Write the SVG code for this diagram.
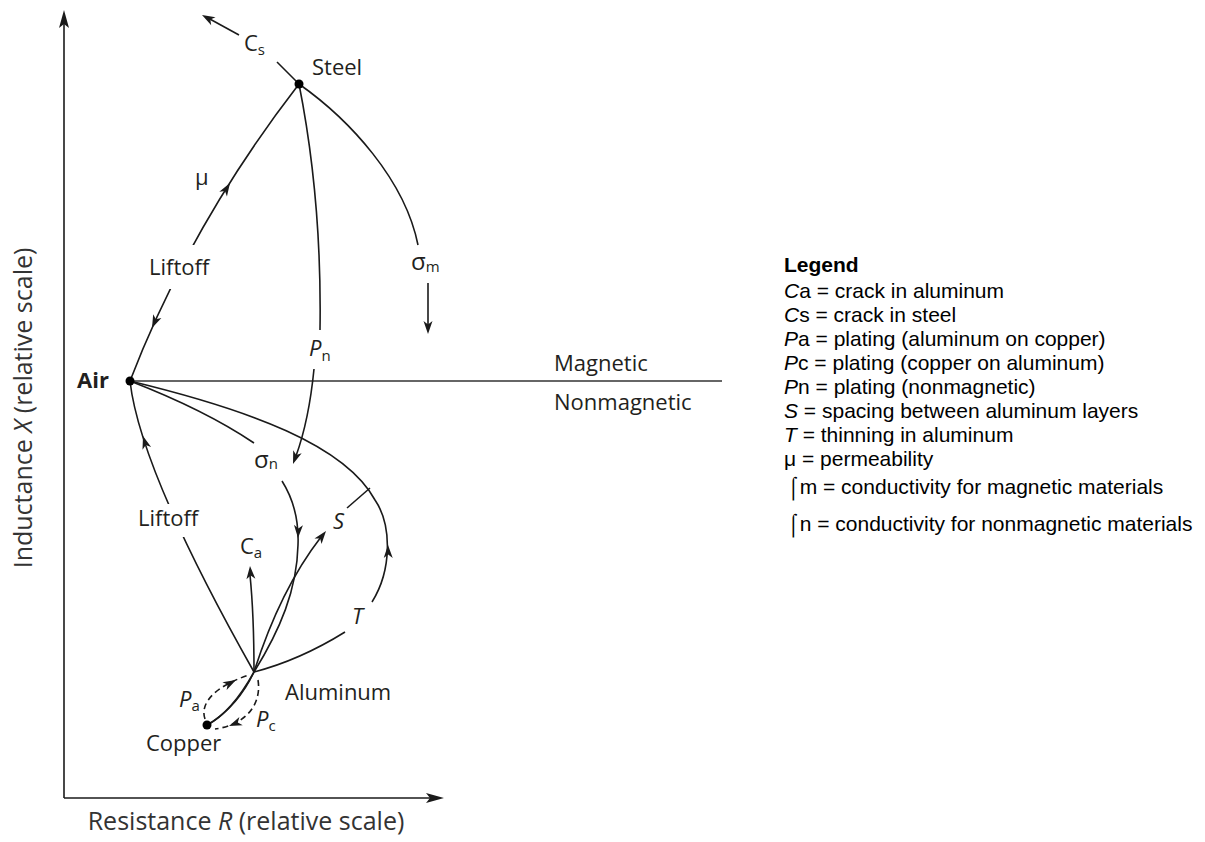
<svg xmlns="http://www.w3.org/2000/svg" xmlns:xlink="http://www.w3.org/1999/xlink" width="1205" height="842" viewBox="0 0 1205 842">
<style>
  .lbl{font-family:"Open Sans","Liberation Sans",sans-serif;font-size:22px;fill:#231f20}
  .sub{font-size:15px}
  .it{font-style:italic}
  .sig{font-size:24px}
  .ax{font-family:"Open Sans","Liberation Sans",sans-serif;font-size:25px;fill:#333}
  .leg{font-family:"Liberation Sans",Arial,sans-serif;font-size:21px;fill:#000}
  .c{fill:none;stroke:#1a1a1a;stroke-width:1.6}
  .d{stroke-dasharray:6 4}
  .sep{fill:none;stroke:#666;stroke-width:2}
  .dot{fill:#000}
  .ah{fill:#1a1a1a}
</style>
<defs>
  <path id="ah" class="ah" d="M0,0 L-13,-4.5 L-9.5,0 L-13,4.5 Z"/>
  <path id="axh" class="ah" d="M0,0 L-18,-5 L-14,0 L-18,5 Z"/>
  <mask id="gaps" maskUnits="userSpaceOnUse" x="0" y="0" width="1205" height="842">
    <rect x="0" y="0" width="1205" height="842" fill="#fff"/>
    <rect x="145" y="245" width="70" height="44" fill="#000"/>
    <rect x="135" y="504" width="66" height="33" fill="#000"/>
  </mask>
</defs>

<g id="axes">
  <line class="c" x1="64" y1="798" x2="64" y2="24"/>
  <line class="c" x1="64" y1="798" x2="432" y2="798"/>
  <use xlink:href="#axh" transform="translate(64,10) rotate(-90)"/>
  <use xlink:href="#axh" transform="translate(444,798)"/>
  <text class="ax" transform="translate(32,408) rotate(-90)" text-anchor="middle" font-size="26">Inductance <tspan class="it">X</tspan> (relative scale)</text>
  <text class="ax" x="246" y="830" text-anchor="middle">Resistance <tspan class="it">R</tspan> (relative scale)</text>
</g>

<g id="region-separator">
  <line class="sep" x1="130" y1="381" x2="722" y2="381"/>
  <text class="lbl" x="554" y="371">Magnetic</text>
  <text class="lbl" x="554" y="410">Nonmagnetic</text>
</g>

<g id="connectors">
  <!-- Cs crack in steel -->
  <line class="c" x1="277" y1="62" x2="299" y2="84"/>
  <line class="c" x1="239" y1="35" x2="208" y2="18"/>
  <use xlink:href="#ah" transform="translate(202,15) rotate(-151)"/>
  <!-- Liftoff / mu : Air - Steel -->
  <path class="c" mask="url(#gaps)" d="M130,381 Q190,225 299,84"/>
  <use xlink:href="#ah" transform="translate(152,328) rotate(114)"/>
  <use xlink:href="#ah" transform="translate(230,183) rotate(-58)"/>
  <!-- sigma m -->
  <path class="c" d="M299,84 C350,120 405,180 418,245"/>
  <line class="c" x1="428" y1="283" x2="428" y2="326"/>
  <use xlink:href="#ah" transform="translate(428,334) rotate(90)"/>
  <!-- Pn -->
  <path class="c" d="M299,84 Q322,200 320,330"/>
  <path class="c" d="M314,369 Q309,420 296,456"/>
  <use xlink:href="#ah" transform="translate(293,464) rotate(110)"/>
  <!-- sigma n : Air - Aluminum -->
  <path class="c" d="M130,381 Q205,410 254,443"/>
  <path class="c" d="M282,481 C294,500 299,520 298,545 C297,590 280,630 254,672"/>
  <use xlink:href="#ah" transform="translate(298,538) rotate(92)"/>
  <!-- S / T big curve -->
  <path class="c" d="M130,381 C250,410 345,445 375,500 C392,525 392,570 372,602"/>
  <use xlink:href="#ah" transform="translate(388,545) rotate(-91)"/>
  <path class="c" d="M345,632 Q300,660 254,672"/>
  <line class="c" x1="370" y1="488" x2="347" y2="508"/>
  <!-- S arrow -->
  <path class="c" d="M254,672 Q280,590 321,537"/>
  <use xlink:href="#ah" transform="translate(326,531) rotate(-52)"/>
  <!-- Ca arrow -->
  <path class="c" d="M254,672 Q254,615 250,575"/>
  <use xlink:href="#ah" transform="translate(250,566) rotate(-94)"/>
  <!-- Liftoff : Aluminum - Air -->
  <path class="c" mask="url(#gaps)" d="M130,381 Q140,470 254,672"/>
  <use xlink:href="#ah" transform="translate(143,436) rotate(-107)"/>
  <!-- Copper - Aluminum -->
  <path class="c" d="M207,725 Q232,712 254,672"/>
  <path class="c" d="M209,724 Q238,706 254,672"/>
  <path class="c d" d="M205,719 C199,702 218,685 249,675"/>
  <use xlink:href="#ah" transform="translate(236,680) rotate(-28)"/>
  <path class="c d" d="M258,680 C262,705 245,725 215,729"/>
  <use xlink:href="#ah" transform="translate(229,726) rotate(158)"/>
</g>

<g id="edge-labels">
  <text class="lbl" x="244" y="51"><tspan>C</tspan><tspan class="sub" dy="4">s</tspan></text>
  <text class="lbl" x="195" y="185">μ</text>
  <text class="lbl" x="149" y="275">Liftoff</text>
  <text class="lbl" x="411" y="270"><tspan class="sig">σ</tspan><tspan class="sub" dy="2">m</tspan></text>
  <text class="lbl" x="309" y="356"><tspan class="it">P</tspan><tspan class="sub" dy="5">n</tspan></text>
  <text class="lbl" x="254" y="468"><tspan class="sig">σ</tspan><tspan class="sub" dy="1">n</tspan></text>
  <text class="lbl" x="138" y="526">Liftoff</text>
  <text class="lbl" x="240" y="554"><tspan>C</tspan><tspan class="sub" dy="4">a</tspan></text>
  <text class="lbl it" x="333" y="529">S</text>
  <text class="lbl it" x="352" y="624">T</text>
  <text class="lbl" x="179" y="707"><tspan class="it">P</tspan><tspan class="sub" dy="4">a</tspan></text>
  <text class="lbl" x="256" y="727"><tspan class="it">P</tspan><tspan class="sub" dy="4">c</tspan></text>
</g>

<g id="node-steel">
  <circle class="dot" cx="299" cy="84" r="4.5"/>
  <text class="lbl" x="312" y="75">Steel</text>
</g>
<g id="node-air">
  <circle class="dot" cx="130" cy="381" r="4.5"/>
  <text class="lbl" x="77" y="388" font-size="18" font-weight="bold">Air</text>
</g>
<g id="node-aluminum">
  <text class="lbl" x="285" y="700">Aluminum</text>
</g>
<g id="node-copper">
  <circle class="dot" cx="207" cy="725" r="4.5"/>
  <text class="lbl" x="146" y="751">Copper</text>
</g>

<g id="legend">
  <text class="leg" x="784" y="272" font-weight="bold">Legend</text>
  <text class="leg" x="784" y="298"><tspan class="it">C</tspan>a = crack in aluminum</text>
  <text class="leg" x="784" y="322"><tspan class="it">C</tspan>s = crack in steel</text>
  <text class="leg" x="784" y="346"><tspan class="it">P</tspan>a = plating (aluminum on copper)</text>
  <text class="leg" x="784" y="370"><tspan class="it">P</tspan>c = plating (copper on aluminum)</text>
  <text class="leg" x="784" y="394"><tspan class="it">P</tspan>n = plating (nonmagnetic)</text>
  <text class="leg" x="784" y="418"><tspan class="it">S</tspan> = spacing between aluminum layers</text>
  <text class="leg" x="784" y="442"><tspan class="it">T</tspan> = thinning in aluminum</text>
  <text class="leg" x="784" y="466">μ = permeability</text>
  <text class="leg" x="787" y="494">⌠m = conductivity for magnetic materials</text>
  <text class="leg" x="787" y="531">⌠n = conductivity for nonmagnetic materials</text>
</g>
</svg>
